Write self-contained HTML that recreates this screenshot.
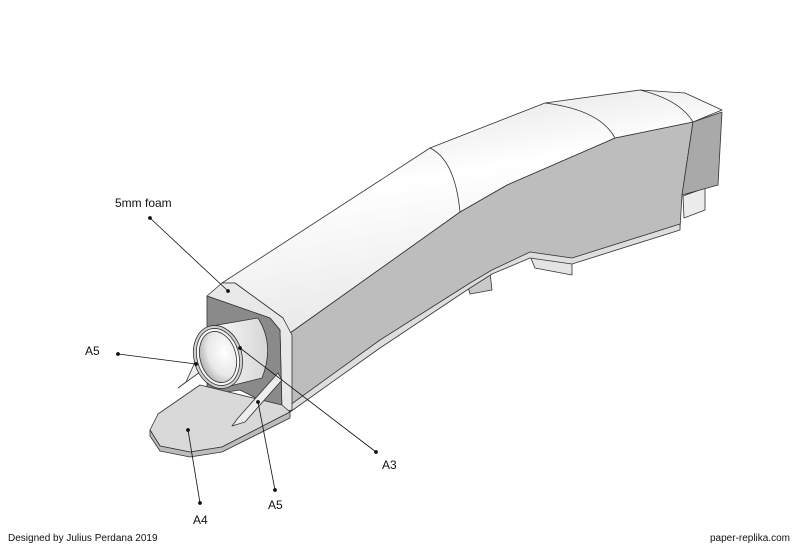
<!DOCTYPE html>
<html><head><meta charset="utf-8"><style>
html,body{margin:0;padding:0;background:#fff;width:800px;height:549px;overflow:hidden}
svg{display:block}
text{font-family:"Liberation Sans",Arial,sans-serif;fill:#111}
</style></head><body>
<svg width="800" height="549" viewBox="0 0 800 549" xmlns="http://www.w3.org/2000/svg">
<defs>
<linearGradient id="top" x1="0" y1="0" x2="0.35" y2="1">
<stop offset="0" stop-color="#d8d8d8"/><stop offset="0.45" stop-color="#ffffff"/><stop offset="1" stop-color="#e6e6e6"/>
</linearGradient>
<linearGradient id="cyl" x1="0" y1="0" x2="1" y2="0">
<stop offset="0" stop-color="#fafafa"/><stop offset="1" stop-color="#d6d6d6"/>
</linearGradient>
<radialGradient id="inner" cx="0.7" cy="0.45" r="0.75">
<stop offset="0" stop-color="#ffffff"/><stop offset="0.6" stop-color="#e8e8e8"/><stop offset="1" stop-color="#a8a8a8"/>
</radialGradient>
</defs>
<g stroke="#333" stroke-width="0.8" stroke-linejoin="round">
<polygon points="467,283 490,272 492,290 470,294" fill="#c9c9c9"/>
<polygon points="530,256 572,262 572,275 535,268" fill="#e4e4e4"/>
<polygon points="683,196 705,188 705,210 684,218" fill="#ececec"/>
<polygon points="290,333 460,212 507,185 615,138 693,122 682,195 680,228 572,262 530,255 492,272 470,285 380,345 290,410" fill="#bdbdbd"/>
<polygon points="290,405 380,340 470,283 492,270 530,252 572,258 680,224 680,230 572,264 530,258 492,274 470,288 380,348 290,412" fill="#dedede"/>
<polygon points="693,122 722,112 718,185 682,195" fill="#a9a9a9"/>
<polygon points="222,283 430,148 545,103 640,90 685,93 722,110 693,122 615,138 507,185 460,212 290,333 283,318 235,283" fill="url(#top)"/>
<path d="M430,148 Q455,160 460,212 M545,103 Q600,110 615,138 M640,90 Q680,100 693,122" fill="none"/>
<polygon points="207,296 222,283 235,283 283,318 292,335 292,410 282,412 280,330 270,318" fill="#e8e8e8"/>
<polygon points="207,296 270,318 280,330 282,412 270,405 240,390 207,395" fill="#8a8a8a"/>
<polygon points="200,385 282,405 290,412 222,447 190,452 160,446 150,430 158,414" fill="#d9d9d9"/>
<polygon points="150,430 160,446 190,452 222,447 290,412 290,418 222,452 190,457 160,451 150,436" fill="#bcbcbc"/>
<polygon points="196,360 186,382 178,388 200,372" fill="#eeeeee"/>
<polygon points="278,373 238,418 232,426 245,422 282,380" fill="#eeeeee"/>
<path d="M212,326 L258,318 Q275,345 262,378 L222,388 Z" fill="url(#cyl)"/>
<ellipse cx="218" cy="357" rx="24" ry="32" transform="rotate(-15 218 357)" fill="#cfcfcf"/>
<ellipse cx="218" cy="357" rx="21" ry="29" transform="rotate(-15 218 357)" fill="#f8f8f8"/>
<ellipse cx="218" cy="357" rx="18" ry="26" transform="rotate(-15 218 357)" fill="url(#inner)"/>
</g>
<g stroke="#111" stroke-width="0.8" fill="#111">
<line x1="150" y1="218" x2="228" y2="291"/><circle cx="150" cy="218" r="1.5"/><circle cx="228" cy="291" r="1.5"/>
<line x1="118" y1="354" x2="196" y2="364"/><circle cx="118" cy="354" r="1.5"/><circle cx="196" cy="364" r="1.5"/>
<line x1="240" y1="348" x2="376" y2="452"/><circle cx="240" cy="348" r="1.5"/><circle cx="376" cy="452" r="1.5"/>
<line x1="258" y1="402" x2="275" y2="490"/><circle cx="258" cy="402" r="1.5"/><circle cx="275" cy="490" r="1.5"/>
<line x1="188" y1="430" x2="200" y2="503"/><circle cx="188" cy="430" r="1.5"/><circle cx="200" cy="503" r="1.5"/>
</g>
<text x="115" y="207" font-size="12">5mm foam</text>
<text x="85" y="355" font-size="12">A5</text>
<text x="382" y="469" font-size="12">A3</text>
<text x="268" y="509" font-size="12">A5</text>
<text x="193" y="524" font-size="12">A4</text>
<text x="8" y="541" font-size="10">Designed by Julius Perdana 2019</text>
<text x="790" y="541" font-size="10" text-anchor="end">paper-replika.com</text>
</svg>
</body></html>
